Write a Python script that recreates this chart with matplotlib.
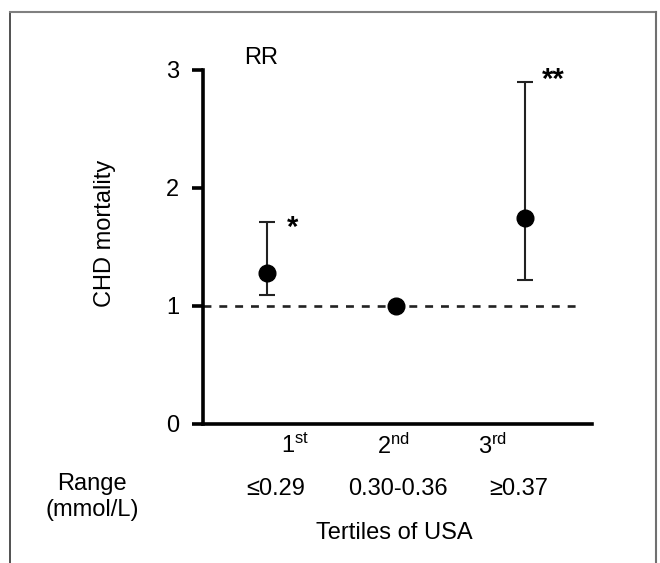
import matplotlib
matplotlib.use("Agg")
import matplotlib.pyplot as plt

plt.rcParams['font.family'] = ['Liberation Sans', 'DejaVu Sans']
plt.rcParams['mathtext.fontset'] = 'custom'
plt.rcParams['mathtext.rm'] = 'Liberation Sans'
plt.rcParams['mathtext.default'] = 'regular'

# Data
tertiles = [1, 2, 3]
tertile_labels = [r'1$^{st}$', r'2$^{nd}$', r'3$^{rd}$']
range_labels = ['≤0.29', '0.30-0.36', '≥0.37']
rr = [1.28, 1.00, 1.75]
ci_low = [1.09, 1.00, 1.22]
ci_high = [1.71, 1.00, 2.90]
significance = ['*', '', '**']
yticks = [0, 1, 2, 3]
reference = 1.0

W, H = 660, 563
fig = plt.figure(figsize=(W / 100, H / 100), dpi=100)
FS = 17

def fx(px):
    return px / W

def fy(py):
    return 1 - py / H

# border (open at bottom)
fig.add_artist(plt.Line2D([fx(10.5), fx(10.5)], [fy(12), 0], color='#333333', lw=1.2))
fig.add_artist(plt.Line2D([fx(10.5), fx(655.5)], [fy(12), fy(12)], color='#808080', lw=1.5))
fig.add_artist(plt.Line2D([fx(655.5), fx(655.5)], [fy(12), 0], color='#707070', lw=1.5))

ax = fig.add_axes([fx(203), fy(424), fx(592) - fx(203), fy(70) - fy(424)])
ax.set_xlim(0.5, 3.52)
ax.set_ylim(0, 3)

ax.hlines(reference, 0.5, 3.45, colors='#222222', linestyles=(0, (3.0, 3.0)), lw=1.9, zorder=1)

yerr = [[r - l for r, l in zip(rr, ci_low)], [h - r for r, h in zip(rr, ci_high)]]
ax.errorbar(tertiles, rr, yerr=yerr, fmt='o', color='black', ms=12,
            ecolor='#222222', elinewidth=1.5, capsize=6, capthick=1.5, zorder=3,
            clip_on=False)

for x, h, s in zip(tertiles, ci_high, significance):
    if s:
        off = (18, -4) if len(s) == 1 else (20, 1)
        ax.annotate(s, xy=(x, h), xytext=off, textcoords='offset points',
                    ha='center', va='center', fontsize=21, fontweight='bold',
                    annotation_clip=False)

for side in ['top', 'right']:
    ax.spines[side].set_visible(False)
for side in ['left', 'bottom']:
    ax.spines[side].set_linewidth(2.6)
ax.set_yticks(yticks)
ax.set_yticklabels([str(t) for t in yticks], fontsize=FS)
ax.tick_params(axis='y', length=8, width=2.6, pad=9)
ax.set_xticks([])

# x labels
for px, lab in zip([295, 393, 493], tertile_labels):
    fig.text(fx(px), fy(446), lab, ha='center', va='center', fontsize=FS)
for px, lab in zip([276, 398, 519], range_labels):
    fig.text(fx(px), fy(489), lab, ha='center', va='center', fontsize=FS)
fig.text(fx(92), fy(497), 'Range\n(mmol/L)', ha='center', va='center', fontsize=FS,
         linespacing=1.2)
fig.text(fx(394), fy(533), 'Tertiles of USA', ha='center', va='center', fontsize=FS)
fig.text(fx(261), fy(58), 'RR', ha='center', va='center', fontsize=FS)
fig.text(fx(105), fy(233), 'CHD mortality', ha='center', va='center', fontsize=FS,
         rotation=90)

fig.savefig('out.png', dpi=100)
